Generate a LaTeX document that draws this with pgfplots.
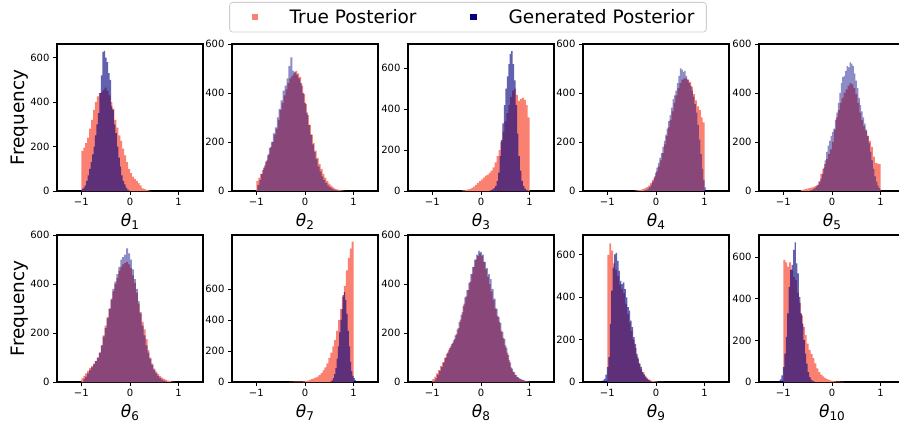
\documentclass[border=0pt]{standalone}
\usepackage{fontspec}
\setmainfont{DejaVu Sans}
\usepackage{pgfplots}
\pgfplotsset{compat=1.18}

\definecolor{salmonc}{RGB}{250,128,114}
\definecolor{navyc}{RGB}{0,0,128}

% theta label with subscript, as matplotlib mathtext
\newcommand{\thl}[1]{\textit{θ}\raisebox{-0.22em}{\fontsize{12}{12}\selectfont #1}}

\pgfplotsset{
  hist/.style={
    width=146pt, height=147pt, scale only axis,
    xmin=-1.5, xmax=1.5, ymin=0,
    xtick={-1,0,1}, xticklabels={−1,0,1},
    ytick={0,200,400,600}, yticklabels={0,200,400,600},
    tick align=outside, tick pos=left, major tick length=4pt,
    tick style={line width=0.9pt, black},
    axis line style={line width=1.7pt},
    ticklabel style={font=\fontsize{10}{10}\selectfont},
    xlabel style={font=\fontsize{17}{17}\selectfont},
    ylabel style={font=\fontsize{18.5}{18.5}\selectfont},
    ylabel shift=-5pt,
  },
  tp/.style={fill=salmonc, draw=none, const plot mark left, forget plot},
  gp/.style={fill=navyc, fill opacity=0.45, draw=none, const plot mark left, forget plot},
  gpn/.style={gp, fill opacity=0.62},
}

\begin{document}
\begin{tikzpicture}

% ---- row 1 ----
\begin{axis}[hist, at={(57pt,-44pt)}, anchor=north west, ymax=661,
  xlabel={\thl{1}}, ylabel={Frequency},
  legend columns=2, legend cell align=left,
  legend style={at={(2.815,1.2857)}, anchor=north, draw=black!20, line width=0.8pt,
    rounded corners=3pt, fill=white, inner xsep=12pt, inner ysep=7pt,
    font=\fontsize{18.5}{18.5}\selectfont, /tikz/column sep=0pt,
    nodes={inner sep=0pt, draw=none, sharp corners}}]
\addlegendimage{legend image code/.code={\path[draw=none,fill=none] (0pt,-3.3pt) rectangle (48pt,3.3pt); \fill[salmonc, draw=none, sharp corners] (10.2pt,-3.3pt) rectangle (16.8pt,3.3pt);}}
\addlegendentry{True Posterior}
\addlegendimage{legend image code/.code={\path[draw=none,fill=none] (0pt,-3.3pt) rectangle (92pt,3.3pt); \fill[navyc, draw=none, sharp corners] (53.7pt,-3.3pt) rectangle (60.3pt,3.3pt);}}
\addlegendentry{Generated Posterior}
\addplot[tp] coordinates {(-1.00,180)(-0.96,195)(-0.92,215)(-0.88,240)(-0.84,280)(-0.80,320)(-0.76,365)(-0.72,400)(-0.68,425)(-0.64,440)(-0.60,445)(-0.56,455)(-0.52,465)(-0.48,450)(-0.44,430)(-0.40,400)(-0.36,370)(-0.32,320)(-0.28,285)(-0.24,250)(-0.20,225)(-0.16,190)(-0.12,160)(-0.08,130)(-0.04,100)(0.00,80)(0.04,65)(0.08,55)(0.12,45)(0.16,35)(0.20,25)(0.24,12)(0.28,8)(0.32,4)(0.36,3)(0.40,1)(0.44,0)} \closedcycle;
\addplot[gpn] coordinates {(-1.02,4)(-0.99,10)(-0.96,15)(-0.93,25)(-0.90,45)(-0.87,70)(-0.84,100)(-0.81,130)(-0.78,165)(-0.75,200)(-0.72,250)(-0.69,300)(-0.66,350)(-0.63,440)(-0.60,520)(-0.57,625)(-0.54,630)(-0.51,600)(-0.48,580)(-0.45,530)(-0.42,500)(-0.39,380)(-0.36,365)(-0.33,300)(-0.30,260)(-0.27,200)(-0.24,150)(-0.21,110)(-0.18,70)(-0.15,45)(-0.12,30)(-0.09,15)(-0.06,6)(-0.03,2)(0.00,0)} \closedcycle;
\end{axis}

\begin{axis}[hist, at={(232pt,-44pt)}, anchor=north west, ymax=600, xlabel={\thl{2}}]
\addplot[tp] coordinates {(-1.00,40)(-0.96,55)(-0.92,70)(-0.88,85)(-0.84,105)(-0.80,125)(-0.76,150)(-0.72,180)(-0.68,200)(-0.64,230)(-0.60,255)(-0.56,290)(-0.52,330)(-0.48,360)(-0.44,390)(-0.40,415)(-0.36,440)(-0.32,460)(-0.28,470)(-0.24,480)(-0.20,490)(-0.16,480)(-0.12,465)(-0.08,430)(-0.04,395)(0.00,355)(0.04,310)(0.08,270)(0.12,230)(0.16,195)(0.20,165)(0.24,135)(0.28,110)(0.32,90)(0.36,70)(0.40,55)(0.44,40)(0.48,30)(0.52,22)(0.56,15)(0.60,10)(0.64,7)(0.68,5)(0.72,3)(0.76,2)(0.80,1)(0.84,0)} \closedcycle;
\addplot[gp] coordinates {(-0.98,25)(-0.94,45)(-0.90,70)(-0.86,95)(-0.82,120)(-0.78,145)(-0.74,175)(-0.70,200)(-0.66,235)(-0.62,260)(-0.58,300)(-0.54,335)(-0.50,370)(-0.46,410)(-0.42,430)(-0.38,460)(-0.34,510)(-0.30,545)(-0.26,490)(-0.22,485)(-0.18,475)(-0.14,460)(-0.10,440)(-0.06,400)(-0.02,360)(0.02,320)(0.06,270)(0.10,230)(0.14,190)(0.18,160)(0.22,130)(0.26,100)(0.30,80)(0.34,60)(0.38,45)(0.42,32)(0.46,22)(0.50,15)(0.54,10)(0.58,6)(0.62,4)(0.66,2)(0.70,0)} \closedcycle;
\end{axis}

\begin{axis}[hist, at={(408pt,-44pt)}, anchor=north west, ymax=718, xlabel={\thl{3}}]
\addplot[tp] coordinates {(-0.40,2)(-0.36,3)(-0.32,5)(-0.28,8)(-0.24,10)(-0.20,15)(-0.16,22)(-0.12,30)(-0.08,40)(-0.04,48)(0.00,55)(0.04,65)(0.08,75)(0.12,80)(0.16,88)(0.20,100)(0.24,115)(0.28,140)(0.32,170)(0.36,200)(0.40,240)(0.44,290)(0.48,340)(0.52,380)(0.56,420)(0.60,460)(0.64,490)(0.68,500)(0.72,470)(0.76,440)(0.80,450)(0.84,455)(0.88,445)(0.92,420)(0.96,360)(1.00,0)} \closedcycle;
\addplot[gpn] coordinates {(0.17,2)(0.20,4)(0.23,8)(0.26,14)(0.29,25)(0.32,50)(0.35,90)(0.38,170)(0.41,250)(0.44,330)(0.47,420)(0.50,500)(0.53,560)(0.56,620)(0.59,670)(0.62,683)(0.65,620)(0.68,540)(0.71,420)(0.74,280)(0.77,170)(0.80,100)(0.83,50)(0.86,25)(0.89,12)(0.92,6)(0.95,3)(0.98,0)} \closedcycle;
\end{axis}

\begin{axis}[hist, at={(583pt,-44pt)}, anchor=north west, ymax=600, xlabel={\thl{4}}]
\addplot[tp] coordinates {(-0.44,2)(-0.40,3)(-0.36,4)(-0.32,6)(-0.28,8)(-0.24,12)(-0.20,16)(-0.16,22)(-0.12,32)(-0.08,45)(-0.04,60)(0.00,80)(0.04,100)(0.08,125)(0.12,155)(0.16,190)(0.20,225)(0.24,260)(0.28,290)(0.32,325)(0.36,360)(0.40,390)(0.44,420)(0.48,440)(0.52,455)(0.56,460)(0.60,460)(0.64,455)(0.68,445)(0.72,425)(0.76,395)(0.80,370)(0.84,345)(0.88,330)(0.92,300)(0.96,280)(1.00,0)} \closedcycle;
\addplot[gp] coordinates {(-0.26,2)(-0.23,4)(-0.20,6)(-0.17,10)(-0.14,16)(-0.11,25)(-0.08,38)(-0.05,55)(-0.02,75)(0.01,95)(0.04,115)(0.07,135)(0.10,155)(0.13,180)(0.16,205)(0.19,230)(0.22,255)(0.25,285)(0.28,310)(0.31,340)(0.34,375)(0.37,390)(0.40,410)(0.43,440)(0.46,470)(0.49,500)(0.52,495)(0.55,485)(0.58,490)(0.61,470)(0.64,455)(0.67,440)(0.70,430)(0.73,410)(0.76,385)(0.79,355)(0.82,320)(0.85,270)(0.88,210)(0.91,150)(0.94,90)(0.97,45)(1.00,15)(1.03,4)(1.06,0)} \closedcycle;
\end{axis}

\begin{axis}[hist, at={(759pt,-44pt)}, anchor=north west, ymax=600, xlabel={\thl{5}}]
\addplot[tp] coordinates {(-0.64,5)(-0.60,6)(-0.56,8)(-0.52,10)(-0.48,12)(-0.44,14)(-0.40,16)(-0.36,20)(-0.32,25)(-0.28,40)(-0.24,70)(-0.20,90)(-0.16,110)(-0.12,130)(-0.08,150)(-0.04,170)(0.00,200)(0.04,250)(0.08,300)(0.12,330)(0.16,360)(0.20,380)(0.24,400)(0.28,415)(0.32,430)(0.36,440)(0.40,435)(0.44,420)(0.48,395)(0.52,360)(0.56,320)(0.60,290)(0.64,265)(0.68,245)(0.72,225)(0.76,205)(0.80,180)(0.84,140)(0.88,115)(0.92,112)(0.96,110)(1.00,0)} \closedcycle;
\addplot[gp] coordinates {(-0.45,3)(-0.42,5)(-0.39,8)(-0.36,12)(-0.33,18)(-0.30,25)(-0.27,35)(-0.24,50)(-0.21,70)(-0.18,95)(-0.15,125)(-0.12,160)(-0.09,185)(-0.06,205)(-0.03,225)(0.00,240)(0.03,255)(0.06,290)(0.09,320)(0.12,360)(0.15,400)(0.18,440)(0.21,465)(0.24,470)(0.27,490)(0.30,510)(0.33,505)(0.36,525)(0.39,520)(0.42,510)(0.45,480)(0.48,450)(0.51,420)(0.54,380)(0.57,350)(0.60,325)(0.63,300)(0.66,275)(0.69,250)(0.72,225)(0.75,195)(0.78,160)(0.81,125)(0.84,90)(0.87,60)(0.90,38)(0.93,22)(0.96,12)(0.99,5)(1.02,0)} \closedcycle;
\end{axis}

% ---- row 2 ----
\begin{axis}[hist, at={(57pt,-235pt)}, anchor=north west, ymax=600,
  xlabel={\thl{6}}, ylabel={Frequency}]
\addplot[tp] coordinates {(-1.00,15)(-0.96,25)(-0.92,35)(-0.88,45)(-0.84,58)(-0.80,65)(-0.76,75)(-0.72,85)(-0.68,100)(-0.64,120)(-0.60,150)(-0.56,190)(-0.52,230)(-0.48,265)(-0.44,300)(-0.40,335)(-0.36,370)(-0.32,400)(-0.28,425)(-0.24,455)(-0.20,470)(-0.16,480)(-0.12,485)(-0.08,490)(-0.04,480)(0.00,465)(0.04,435)(0.08,405)(0.12,365)(0.16,320)(0.20,285)(0.24,245)(0.28,215)(0.32,175)(0.36,130)(0.40,100)(0.44,75)(0.48,55)(0.52,42)(0.56,32)(0.60,25)(0.64,18)(0.68,13)(0.72,9)(0.76,6)(0.80,4)(0.84,2)(0.88,1)(0.92,0)} \closedcycle;
\addplot[gp] coordinates {(-0.96,12)(-0.92,22)(-0.88,35)(-0.84,48)(-0.80,60)(-0.76,72)(-0.72,85)(-0.68,100)(-0.64,120)(-0.60,150)(-0.56,185)(-0.52,220)(-0.48,260)(-0.44,300)(-0.40,340)(-0.36,380)(-0.32,410)(-0.28,440)(-0.24,470)(-0.20,500)(-0.16,510)(-0.12,520)(-0.08,545)(-0.04,525)(0.00,500)(0.04,460)(0.08,420)(0.12,380)(0.16,330)(0.20,280)(0.24,230)(0.28,190)(0.32,150)(0.36,120)(0.40,95)(0.44,70)(0.48,50)(0.52,35)(0.56,24)(0.60,16)(0.64,10)(0.68,6)(0.72,3)(0.76,0)} \closedcycle;
\end{axis}

\begin{axis}[hist, at={(232pt,-235pt)}, anchor=north west, ymax=948, xlabel={\thl{7}}]
\addplot[tp] coordinates {(-0.32,1)(-0.28,1)(-0.24,2)(-0.20,2)(-0.16,2)(-0.12,3)(-0.08,3)(-0.04,4)(0.00,6)(0.04,9)(0.08,14)(0.12,18)(0.16,24)(0.20,28)(0.24,35)(0.28,45)(0.32,58)(0.36,75)(0.40,95)(0.44,120)(0.48,155)(0.52,190)(0.56,230)(0.60,270)(0.64,330)(0.68,400)(0.72,470)(0.76,550)(0.80,620)(0.84,720)(0.88,800)(0.92,860)(0.96,905)(1.00,0)} \closedcycle;
\addplot[gpn] coordinates {(0.525,5)(0.55,10)(0.575,25)(0.60,50)(0.625,90)(0.65,150)(0.675,230)(0.70,320)(0.725,400)(0.75,470)(0.775,560)(0.80,580)(0.825,530)(0.85,440)(0.875,330)(0.90,230)(0.925,130)(0.95,70)(0.975,40)(1.00,25)(1.025,12)(1.05,5)(1.075,0)} \closedcycle;
\end{axis}

\begin{axis}[hist, at={(408pt,-235pt)}, anchor=north west, ymax=600, xlabel={\thl{8}}]
\addplot[tp] coordinates {(-1.00,12)(-0.96,22)(-0.92,35)(-0.88,48)(-0.84,65)(-0.80,80)(-0.76,98)(-0.72,115)(-0.68,130)(-0.64,145)(-0.60,160)(-0.56,175)(-0.52,195)(-0.48,220)(-0.44,255)(-0.40,285)(-0.36,320)(-0.32,350)(-0.28,375)(-0.24,410)(-0.20,440)(-0.16,470)(-0.12,500)(-0.08,515)(-0.04,525)(0.00,515)(0.04,490)(0.08,460)(0.12,430)(0.16,400)(0.20,370)(0.24,335)(0.28,300)(0.32,270)(0.36,245)(0.40,210)(0.44,180)(0.48,150)(0.52,120)(0.56,90)(0.60,60)(0.64,42)(0.68,30)(0.72,20)(0.76,15)(0.80,11)(0.84,8)(0.88,5)(0.92,3)(0.96,2)(1.00,0)} \closedcycle;
\addplot[gp] coordinates {(-0.98,5)(-0.94,15)(-0.90,30)(-0.86,45)(-0.82,62)(-0.78,80)(-0.74,100)(-0.70,120)(-0.66,138)(-0.62,155)(-0.58,170)(-0.54,190)(-0.50,215)(-0.46,245)(-0.42,275)(-0.38,310)(-0.34,345)(-0.30,375)(-0.26,405)(-0.22,440)(-0.18,470)(-0.14,500)(-0.10,520)(-0.06,535)(-0.02,530)(0.02,520)(0.06,490)(0.10,465)(0.14,440)(0.18,420)(0.22,380)(0.26,340)(0.30,300)(0.34,265)(0.38,240)(0.42,205)(0.46,175)(0.50,140)(0.54,110)(0.58,80)(0.62,55)(0.66,40)(0.70,28)(0.74,20)(0.78,14)(0.82,10)(0.86,7)(0.90,4)(0.94,2)(0.98,0)} \closedcycle;
\end{axis}

\begin{axis}[hist, at={(583pt,-235pt)}, anchor=north west, ymax=694, xlabel={\thl{9}}]
\addplot[tp] coordinates {(-1.00,600)(-0.96,655)(-0.92,620)(-0.88,560)(-0.84,530)(-0.80,500)(-0.76,460)(-0.72,440)(-0.68,420)(-0.64,370)(-0.60,320)(-0.56,280)(-0.52,240)(-0.48,200)(-0.44,160)(-0.40,120)(-0.36,90)(-0.32,60)(-0.28,45)(-0.24,30)(-0.20,20)(-0.16,12)(-0.12,7)(-0.08,5)(-0.04,3)(0.00,2)(0.04,1)(0.08,1)(0.12,1)(0.16,0)} \closedcycle;
\addplot[gpn] coordinates {(-1.13,3)(-1.10,8)(-1.07,15)(-1.04,35)(-1.01,70)(-0.98,117)(-0.95,274)(-0.92,431)(-0.89,540)(-0.86,603)(-0.83,610)(-0.80,572)(-0.77,525)(-0.74,478)(-0.71,462)(-0.68,470)(-0.65,439)(-0.62,400)(-0.59,353)(-0.56,337)(-0.53,290)(-0.50,259)(-0.47,212)(-0.44,180)(-0.41,133)(-0.38,110)(-0.35,86)(-0.32,71)(-0.29,47)(-0.26,36)(-0.23,24)(-0.20,16)(-0.17,10)(-0.14,6)(-0.11,3)(-0.08,0)} \closedcycle;
\end{axis}

\begin{axis}[hist, at={(759pt,-235pt)}, anchor=north west, ymax=707, xlabel={\thl{10}}]
\addplot[tp] coordinates {(-1.00,587)(-0.96,575)(-0.92,555)(-0.88,575)(-0.84,540)(-0.80,505)(-0.76,490)(-0.72,430)(-0.68,380)(-0.64,320)(-0.60,265)(-0.56,225)(-0.52,185)(-0.48,155)(-0.44,135)(-0.40,115)(-0.36,90)(-0.32,65)(-0.28,48)(-0.24,35)(-0.20,27)(-0.16,20)(-0.12,14)(-0.08,10)(-0.04,7)(0.00,5)(0.04,3)(0.08,2)(0.12,2)(0.16,1)(0.20,1)(0.24,0)} \closedcycle;
\addplot[gpn] coordinates {(-1.13,3)(-1.10,6)(-1.07,13)(-1.04,32)(-1.01,72)(-0.98,137)(-0.95,217)(-0.92,330)(-0.89,458)(-0.86,539)(-0.83,563)(-0.80,635)(-0.77,672)(-0.74,571)(-0.71,522)(-0.68,410)(-0.65,330)(-0.62,281)(-0.59,201)(-0.56,137)(-0.53,88)(-0.50,48)(-0.47,24)(-0.44,11)(-0.41,5)(-0.38,2)(-0.35,0)} \closedcycle;
\end{axis}

\pgfresetboundingbox
\path[use as bounding box] (0pt,0pt) rectangle (899pt,-425pt);
\end{tikzpicture}
\end{document}
